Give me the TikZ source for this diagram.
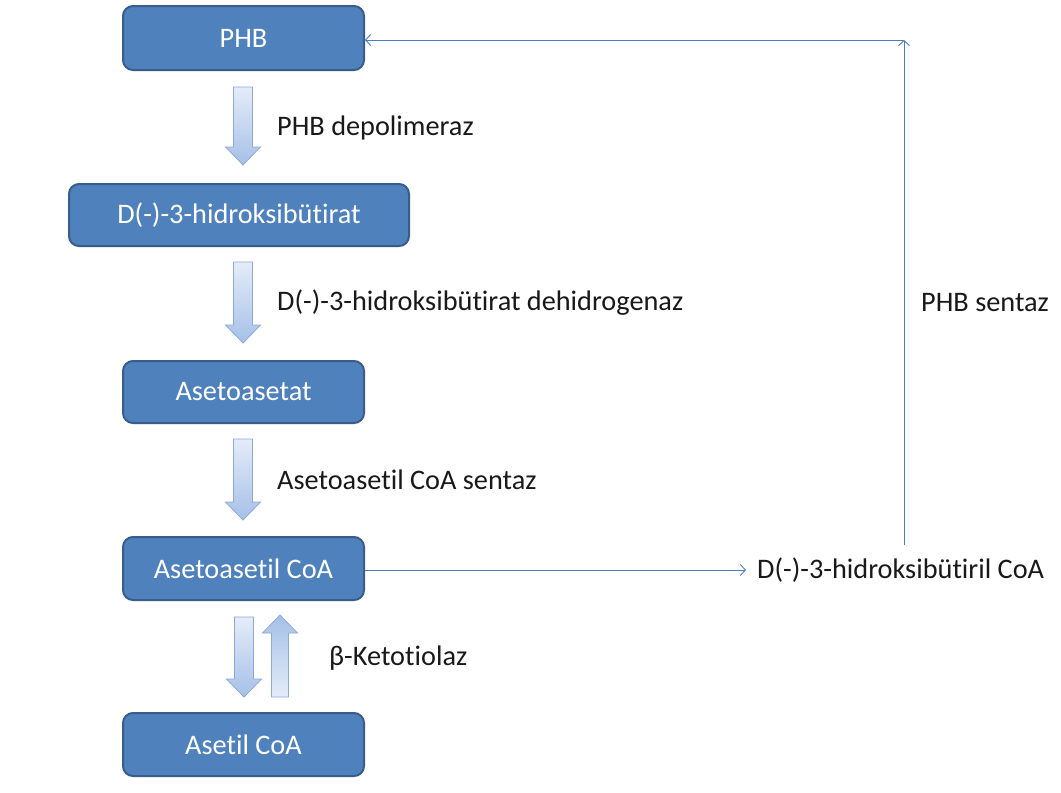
\documentclass[tikz,border=0pt]{standalone}
\usepackage{fontspec}
\setmainfont{Carlito}[Ligatures=NoCommon]
\usetikzlibrary{arrows.meta}
\definecolor{boxfill}{HTML}{4F81BD}
\definecolor{boxline}{HTML}{385D8A}
\definecolor{connline}{HTML}{4A7EBB}
\definecolor{arrtop}{HTML}{E4ECF8}
\definecolor{arrbot}{HTML}{A5C0E8}
\definecolor{arrline}{HTML}{8EA9D6}
\tikzset{
  stepbox/.style={draw=boxline, line width=2pt, fill=boxfill, rounded corners=10pt,
    text=white, font=\fontsize{28.3}{33}\selectfont, minimum width=241pt, minimum height=63pt, inner sep=0pt},
  lbl/.style={anchor=west, inner sep=0pt, font=\fontsize{28.3}{33}\selectfont, text=black!90},
  conn/.style={draw=connline, line width=0.9pt, -{Straight Barb[length=5pt,width=11pt]}},
  blockarr/.style={draw=arrline, line width=0.8pt}
}
% block arrow: x center, y start (tail), y tip
\newcommand{\blkdown}[3]{%
  \shade[blockarr, top color=arrtop, bottom color=arrbot]
    (#1-9.5,#2) -- (#1+9.5,#2) -- (#1+9.5,#3-18) -- (#1+17.5,#3-18) -- (#1,#3)
    -- (#1-17.5,#3-18) -- (#1-9.5,#3-18) -- cycle;}
\newcommand{\blkup}[3]{%
  \shade[blockarr, top color=arrbot, bottom color=arrtop]
    (#1-8.5,#2) -- (#1+8.5,#2) -- (#1+8.5,#3+18) -- (#1+17.5,#3+18) -- (#1,#3)
    -- (#1-17.5,#3+18) -- (#1-8.5,#3+18) -- cycle;}
\begin{document}
\begin{tikzpicture}[x=1pt,y=-1pt]
\useasboundingbox (0,0) rectangle (1061,793);
\fill[white] (0,0) rectangle (1061,793);

\node[stepbox, minimum height=64pt] (phb) at (243.5,38) {PHB};
\node[stepbox, minimum width=340pt, minimum height=62pt] (hbt) at (239,215) {D(-)-3-hidroksibütirat};
\node[stepbox, minimum height=62pt] (aa) at (243.5,392) {Asetoasetat};
\node[stepbox] (aac) at (243.5,568.5) {Asetoasetil CoA};
\node[stepbox] (ac) at (243.5,744.5) {Asetil CoA};

\blkdown{243}{87}{165}
\blkdown{243}{262}{343}
\blkdown{243}{439}{520}
\blkdown{244}{617}{697}
\blkup{280}{697}{615}

\node[lbl] (l1) at (277,128) {PHB depolimeraz};
\node[lbl] (l2) at (277,303) {D(-)-3-hidroksibütirat dehidrogenaz};
\node[lbl] (l3) at (277,480) {Asetoasetil CoA sentaz};
\node[lbl] (l4) at (329,658) {β-Ketotiolaz};
\node[lbl] (l5) at (921,303) {PHB sentaz};
\node[lbl, inner xsep=11pt] (hbc) at (746,570) {D(-)-3-hidroksibütiril CoA};

\coordinate (vb) at (904,545);
\coordinate (corner) at (904,40);
\draw[conn] (aac.east |- hbc.west) -- (hbc.west);
\draw[conn] (vb) -- (corner);
\draw[conn] (corner) -- (corner -| phb.east);
\end{tikzpicture}
\end{document}
